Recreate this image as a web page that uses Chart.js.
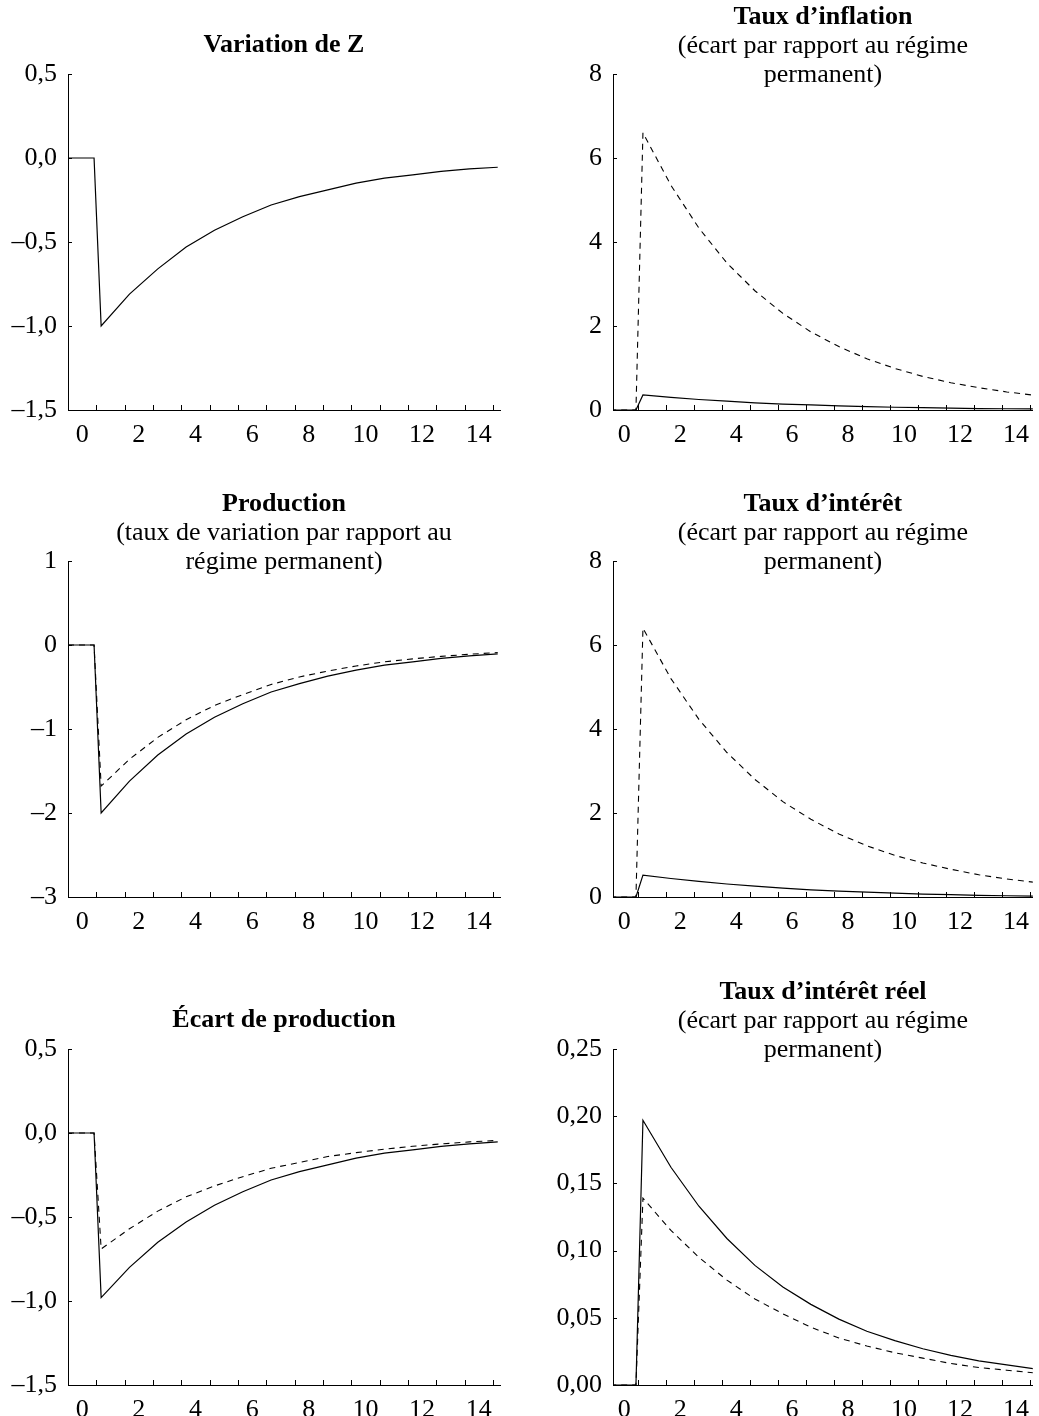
<!DOCTYPE html>
<html>
<head>
<meta charset="utf-8">
<script src="https://cdn.jsdelivr.net/npm/chart.js@4.4.1/dist/chart.umd.min.js"></script>
<style>
  html, body { margin: 0; padding: 0; background: #fff; }
  #page { position: relative; width: 1039px; height: 1416px; overflow: hidden; }
  #page canvas { position: absolute; }
</style>
</head>
<body>
<div id="page">
  <canvas id="c-z" style="left:0;top:0" width="520" height="450"></canvas>
  <canvas id="c-infl" style="left:520px;top:0" width="519" height="450"></canvas>
  <canvas id="c-prod" style="left:0;top:480px" width="520" height="457"></canvas>
  <canvas id="c-rate" style="left:520px;top:480px" width="519" height="457"></canvas>
  <canvas id="c-gap" style="left:0;top:960px" width="520" height="456"></canvas>
  <canvas id="c-real" style="left:520px;top:960px" width="519" height="456"></canvas>
</div>
<script>
// time axis (periods); shock hits between 0 and 1
const periods = [-0.5, 0.42, 0.67, 1.67, 2.67, 3.67, 4.67, 5.67, 6.67, 7.67, 8.67, 9.67, 10.67, 11.67, 12.67, 13.67, 14.67];
const xLabels = [0, 2, 4, 6, 8, 10, 12, 14];
const xTickMarks = [0.5, 1.5, 2.5, 3.5, 4.5, 5.5, 6.5, 7.5, 8.5, 9.5, 10.5, 11.5, 12.5, 13.5, 14.5];

// series
const zChange = [0, 0, -1.00, -0.81, -0.66, -0.53, -0.43, -0.35, -0.28, -0.23, -0.19, -0.15, -0.12, -0.10, -0.08, -0.065, -0.055];

const inflationSolid = [0, 0, 0.36, 0.30, 0.25, 0.21, 0.17, 0.14, 0.12, 0.10, 0.08, 0.065, 0.055, 0.045, 0.035, 0.03, 0.025];
const inflationDashed = [0, 0, 6.6, 5.35, 4.33, 3.5, 2.84, 2.3, 1.86, 1.51, 1.22, 0.99, 0.8, 0.65, 0.53, 0.43, 0.35];

const productionSolid = [0, 0, -2.00, -1.62, -1.31, -1.06, -0.86, -0.70, -0.56, -0.46, -0.37, -0.30, -0.24, -0.20, -0.16, -0.13, -0.105];
const productionDashed = [0, 0, -1.68, -1.36, -1.10, -0.89, -0.72, -0.59, -0.47, -0.38, -0.31, -0.25, -0.20, -0.165, -0.135, -0.11, -0.09];

const rateSolid = [0, 0, 0.52, 0.44, 0.37, 0.31, 0.26, 0.21, 0.17, 0.14, 0.115, 0.09, 0.07, 0.055, 0.04, 0.03, 0.02];
const rateDashed = [0, 0, 6.4, 5.2, 4.23, 3.44, 2.8, 2.27, 1.85, 1.5, 1.22, 0.99, 0.81, 0.66, 0.53, 0.43, 0.35];

const gapSolid = [0, 0, -0.98, -0.80, -0.65, -0.53, -0.43, -0.35, -0.28, -0.23, -0.19, -0.15, -0.12, -0.10, -0.08, -0.065, -0.053];
const gapDashed = [0, 0, -0.69, -0.57, -0.465, -0.38, -0.315, -0.26, -0.21, -0.175, -0.14, -0.117, -0.096, -0.079, -0.065, -0.053, -0.044];

const realSolid = [0, 0, 0.197, 0.162, 0.133, 0.109, 0.089, 0.073, 0.060, 0.049, 0.040, 0.033, 0.027, 0.022, 0.018, 0.015, 0.012];
const realDashed = [0, 0, 0.139, 0.115, 0.095, 0.078, 0.064, 0.053, 0.043, 0.035, 0.029, 0.024, 0.020, 0.016, 0.013, 0.011, 0.009];

// y tick labels
const yTicksZ = [-1.5, -1.0, -0.5, 0.0, 0.5];
const yTicksInflation = [0, 2, 4, 6, 8];
const yTicksProduction = [-3, -2, -1, 0, 1];
const yTicksRate = [0, 2, 4, 6, 8];
const yTicksGap = [-1.5, -1.0, -0.5, 0.0, 0.5];
const yTicksReal = [0, 0.05, 0.10, 0.15, 0.20, 0.25];

// titles
const titleZ = ['Variation de Z'];
const titleInflation = ['Taux d’inflation', '(écart par rapport au régime', 'permanent)'];
const titleProduction = ['Production', '(taux de variation par rapport au', 'régime permanent)'];
const titleRate = ['Taux d’intérêt', '(écart par rapport au régime', 'permanent)'];
const titleGap = ['Écart de production'];
const titleReal = ['Taux d’intérêt réel', '(écart par rapport au régime', 'permanent)'];

const FONT = '"Liberation Serif", "Times New Roman", serif';

const fmt = (v, d) => (v < -1e-9 ? '–' : '') + Math.abs(v).toFixed(d).replace('.', ',');

// inward tick marks and the panel titles
const frame = {
  id: 'frame',
  afterDraw(chart, args, opts) {
    const ctx = chart.ctx;
    const a = chart.chartArea;
    const xs = chart.scales.x;
    const ys = chart.scales.y;
    ctx.save();
    ctx.strokeStyle = '#000';
    ctx.lineWidth = 1;
    ctx.beginPath();
    xTickMarks.forEach(v => {
      const px = Math.round(xs.getPixelForValue(v)) + 0.5;
      if (px > a.right) return;
      ctx.moveTo(px, a.bottom);
      ctx.lineTo(px, a.bottom - 5);
    });
    ys.ticks.forEach(t => {
      const py = Math.round(ys.getPixelForValue(t.value)) + 0.5;
      ctx.moveTo(a.left, py);
      ctx.lineTo(a.left + 4, py);
    });
    ctx.stroke();

    const cx = (a.left + a.right) / 2;
    const offs = opts.lines.length === 1 ? [-29] : [-57, -28, 1];
    ctx.fillStyle = '#000';
    ctx.textAlign = 'center';
    ctx.textBaseline = 'middle';
    opts.lines.forEach((line, i) => {
      ctx.font = (i === 0 ? 'bold ' : '') + '26px ' + FONT;
      ctx.fillText(line, cx, a.top + offs[i]);
    });
    ctx.restore();
  }
};

const makeChart = (id, p) => {
  const datasets = [];
  if (p.dashed) {
    datasets.push({
      data: p.dashed.map((v, i) => ({ x: periods[i], y: v })),
      borderColor: '#000', borderWidth: 1.1, borderDash: [6, 5],
      pointRadius: 0, tension: 0, fill: false
    });
  }
  datasets.push({
    data: p.solid.map((v, i) => ({ x: periods[i], y: v })),
    borderColor: '#000', borderWidth: 1.2,
    pointRadius: 0, tension: 0, fill: false
  });

  return new Chart(document.getElementById(id), {
    type: 'line',
    data: { datasets: datasets },
    plugins: [frame],
    options: {
      responsive: false,
      animation: false,
      layout: { padding: { top: p.padTop, right: p.padRight, left: 0, bottom: 0 } },
      plugins: {
        legend: { display: false },
        tooltip: { enabled: false },
        frame: { lines: p.title }
      },
      scales: {
        x: {
          type: 'linear',
          min: p.xMin,
          max: p.xMax,
          afterBuildTicks: s => { s.ticks = xLabels.map(v => ({ value: v })); },
          afterFit: s => { s.height = p.xHeight; },
          grid: { display: false, drawTicks: false },
          border: { display: true, color: '#000', width: 1 },
          ticks: {
            padding: 10,
            maxRotation: 0,
            autoSkip: false,
            color: '#000',
            font: { family: FONT, size: 26 },
            callback: v => String(v)
          }
        },
        y: {
          min: p.yTicks[0],
          max: p.yTicks[p.yTicks.length - 1],
          afterBuildTicks: s => { s.ticks = p.yTicks.map(v => ({ value: v })); },
          afterFit: s => { s.width = p.yWidth; },
          grid: { display: false, drawTicks: false },
          border: { display: true, color: '#000', width: 1 },
          ticks: {
            padding: 11,
            color: '#000',
            font: { family: FONT, size: 26 },
            callback: v => fmt(v, p.decimals)
          }
        }
      }
    }
  });
};

const left = { xMin: -0.5, xMax: 14.75, padRight: 20, yWidth: 68 };
const right = { xMin: -0.4, xMax: 14.6, padRight: 0, yWidth: 93 };

makeChart('c-z', Object.assign({}, left, { padTop: 74, xHeight: 40, title: titleZ, yTicks: yTicksZ, decimals: 1, solid: zChange }));
makeChart('c-infl', Object.assign({}, right, { padTop: 74, xHeight: 40, title: titleInflation, yTicks: yTicksInflation, decimals: 0, solid: inflationSolid, dashed: inflationDashed }));
makeChart('c-prod', Object.assign({}, left, { padTop: 81, xHeight: 40, title: titleProduction, yTicks: yTicksProduction, decimals: 0, solid: productionSolid, dashed: productionDashed }));
makeChart('c-rate', Object.assign({}, right, { padTop: 81, xHeight: 40, title: titleRate, yTicks: yTicksRate, decimals: 0, solid: rateSolid, dashed: rateDashed }));
makeChart('c-gap', Object.assign({}, left, { padTop: 89, xHeight: 31, title: titleGap, yTicks: yTicksGap, decimals: 1, solid: gapSolid, dashed: gapDashed }));
makeChart('c-real', Object.assign({}, right, { padTop: 89, xHeight: 31, title: titleReal, yTicks: yTicksReal, decimals: 2, solid: realSolid, dashed: realDashed }));
</script>
</body>
</html>
